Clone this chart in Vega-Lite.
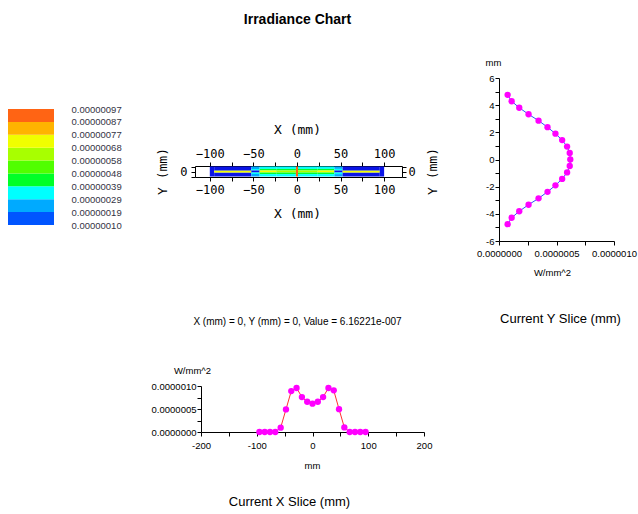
{
  "$schema": "https://vega.github.io/schema/vega-lite/v6.json",
  "width": 638,
  "height": 514,
  "autosize": {"type": "none"},
  "padding": 0,
  "background": "#ffffff",
  "resolve": {"scale": {"x": "independent", "y": "independent"}, "axis": {"x": "independent", "y": "independent"}},
  "layer": [
    {
      "data": {"values": [
        {"lo": 9.66e-8, "hi": 1.932e-7, "value": 1.449e-7},
        {"lo": 1.932e-7, "hi": 2.898e-7, "value": 2.415e-7},
        {"lo": 2.898e-7, "hi": 3.864e-7, "value": 3.381e-7},
        {"lo": 3.864e-7, "hi": 4.83e-7, "value": 4.347e-7},
        {"lo": 4.83e-7, "hi": 5.796e-7, "value": 5.313e-7},
        {"lo": 5.796e-7, "hi": 6.762e-7, "value": 6.279e-7},
        {"lo": 6.762e-7, "hi": 7.728e-7, "value": 7.245e-7},
        {"lo": 7.728e-7, "hi": 8.694e-7, "value": 8.211e-7},
        {"lo": 8.694e-7, "hi": 9.66e-7, "value": 9.177e-7}
      ]},
      "mark": {"type": "rect"},
      "encoding": {
        "x": {"datum": 0, "type": "quantitative", "scale": {"domain": [0, 1], "range": [8, 54], "nice": false, "zero": false}, "axis": null},
        "x2": {"datum": 1},
        "y": {"field": "lo", "type": "quantitative", "scale": {"domain": [9.66e-8, 9.66e-7], "range": [225, 109], "nice": false, "zero": false},
              "axis": {"orient": "right", "offset": -584, "values": [9.66e-8, 1.932e-7, 2.898e-7, 3.864e-7, 4.83e-7, 5.796e-7, 6.762e-7, 7.728e-7, 8.694e-7, 9.66e-7],
                       "format": ".8f", "domain": false, "ticks": false, "labelPadding": 17, "title": null, "labelFontSize": 9.5, "labelColor": "#333344"}},
        "y2": {"field": "hi"},
        "color": {"field": "value", "type": "quantitative",
                  "scale": {"type": "threshold", "domain": [9.66e-8, 1.932e-7, 2.898e-7, 3.864e-7, 4.83e-7, 5.796e-7, 6.762e-7, 7.728e-7, 8.694e-7],
                            "range": ["#0a14e6", "#0055ff", "#00aaff", "#00ffff", "#00ff28", "#50ff00", "#a8ff00", "#f0ff00", "#ffb400", "#ff6414"]},
                  "legend": null}
      }
    },
    {
      "data": {"values": [
        {"x0": -100, "x1": -95, "y0": -5, "y1": 5, "value": 5e-8},
        {"x0": -95, "x1": -52.4, "y0": -5, "y1": -1, "value": 5e-8},
        {"x0": -95, "x1": -52.4, "y0": -1, "y1": 1, "value": 7.2e-7},
        {"x0": -95, "x1": -52.4, "y0": 1, "y1": 5, "value": 5e-8},
        {"x0": -52.4, "x1": -42.9, "y0": 2.6, "y1": 5, "value": 2.5e-7},
        {"x0": -52.4, "x1": -42.9, "y0": 1, "y1": 2.6, "value": 3.5e-7},
        {"x0": -52.4, "x1": -42.9, "y0": -1, "y1": 1, "value": 5e-8},
        {"x0": -52.4, "x1": -42.9, "y0": -2.6, "y1": -1, "value": 3.5e-7},
        {"x0": -52.4, "x1": -42.9, "y0": -5, "y1": -2.6, "value": 2.5e-7},
        {"x0": -42.9, "x1": -23.8, "y0": 2.6, "y1": 5, "value": 3.5e-7},
        {"x0": -42.9, "x1": -23.8, "y0": 1, "y1": 2.6, "value": 4.5e-7},
        {"x0": -42.9, "x1": -23.8, "y0": -1, "y1": 1, "value": 7.2e-7},
        {"x0": -42.9, "x1": -23.8, "y0": -2.6, "y1": -1, "value": 4.5e-7},
        {"x0": -42.9, "x1": -23.8, "y0": -5, "y1": -2.6, "value": 3.5e-7},
        {"x0": -23.8, "x1": -1.2, "y0": 2.6, "y1": 5, "value": 3.3e-7},
        {"x0": -23.8, "x1": -1.2, "y0": 1, "y1": 2.6, "value": 4.2e-7},
        {"x0": -23.8, "x1": -1.2, "y0": -1, "y1": 1, "value": 6.2e-7},
        {"x0": -23.8, "x1": -1.2, "y0": -2.6, "y1": -1, "value": 4.2e-7},
        {"x0": -23.8, "x1": -1.2, "y0": -5, "y1": -2.6, "value": 3.3e-7},
        {"x0": -1.2, "x1": 1.2, "y0": -5, "y1": 5, "value": 9e-7},
        {"x0": 1.2, "x1": 23.8, "y0": 2.6, "y1": 5, "value": 3.3e-7},
        {"x0": 1.2, "x1": 23.8, "y0": 1, "y1": 2.6, "value": 4.2e-7},
        {"x0": 1.2, "x1": 23.8, "y0": -1, "y1": 1, "value": 6.2e-7},
        {"x0": 1.2, "x1": 23.8, "y0": -2.6, "y1": -1, "value": 4.2e-7},
        {"x0": 1.2, "x1": 23.8, "y0": -5, "y1": -2.6, "value": 3.3e-7},
        {"x0": 23.8, "x1": 42.9, "y0": 2.6, "y1": 5, "value": 3.5e-7},
        {"x0": 23.8, "x1": 42.9, "y0": 1, "y1": 2.6, "value": 4.5e-7},
        {"x0": 23.8, "x1": 42.9, "y0": -1, "y1": 1, "value": 7.2e-7},
        {"x0": 23.8, "x1": 42.9, "y0": -2.6, "y1": -1, "value": 4.5e-7},
        {"x0": 23.8, "x1": 42.9, "y0": -5, "y1": -2.6, "value": 3.5e-7},
        {"x0": 42.9, "x1": 52.4, "y0": 2.6, "y1": 5, "value": 2.5e-7},
        {"x0": 42.9, "x1": 52.4, "y0": 1, "y1": 2.6, "value": 3.5e-7},
        {"x0": 42.9, "x1": 52.4, "y0": -1, "y1": 1, "value": 5e-8},
        {"x0": 42.9, "x1": 52.4, "y0": -2.6, "y1": -1, "value": 3.5e-7},
        {"x0": 42.9, "x1": 52.4, "y0": -5, "y1": -2.6, "value": 2.5e-7},
        {"x0": 52.4, "x1": 95, "y0": -5, "y1": -1, "value": 5e-8},
        {"x0": 52.4, "x1": 95, "y0": -1, "y1": 1, "value": 7.2e-7},
        {"x0": 52.4, "x1": 95, "y0": 1, "y1": 5, "value": 5e-8},
        {"x0": 95, "x1": 100, "y0": -5, "y1": 5, "value": 5e-8}
      ]},
      "resolve": {"axis": {"x": "independent", "y": "independent"}},
      "layer": [
        {
          "mark": {"type": "rect"},
          "encoding": {
            "x": {"field": "x0", "type": "quantitative", "scale": {"domain": [-117, 120.5], "range": [195, 402], "nice": false, "zero": false},
                  "axis": {"orient": "bottom", "offset": -337, "values": [-100, -75, -50, -25, 0, 25, 50, 75, 100], "labelExpr": "datum.value % 50 === 0 ? datum.label : ''",
                           "title": "X (mm)", "titleX": 297, "titleY": 36, "titleBaseline": "middle", "titleAlign": "center",
                           "labelFont": "DejaVu Sans Mono", "titleFont": "DejaVu Sans Mono", "labelFontSize": 12, "titleFontSize": 13, "tickSize": 4, "labelPadding": 3}},
            "x2": {"field": "x1"},
            "y": {"field": "y0", "type": "quantitative", "scale": {"domain": [-5.5, 5.5], "range": [177, 166], "nice": false, "zero": false},
                  "axis": {"orient": "left", "offset": -195, "values": [-5, 0, 5], "labelExpr": "datum.value === 0 ? '0' : ''",
                           "title": "Y (mm)", "titleX": -33, "titleY": 171, "titleAngle": 270, "titleBaseline": "middle", "titleAlign": "center",
                           "labelFont": "DejaVu Sans Mono", "titleFont": "DejaVu Sans Mono", "labelFontSize": 12, "titleFontSize": 13, "tickSize": 4, "labelPadding": 4}},
            "y2": {"field": "y1"},
            "color": {"field": "value", "type": "quantitative",
                      "scale": {"type": "threshold", "domain": [9.66e-8, 1.932e-7, 2.898e-7, 3.864e-7, 4.83e-7, 5.796e-7, 6.762e-7, 7.728e-7, 8.694e-7],
                                "range": ["#0a14e6", "#0055ff", "#00aaff", "#00ffff", "#00ff28", "#50ff00", "#a8ff00", "#f0ff00", "#ffb400", "#ff6414"]},
                      "legend": null}
          }
        },
        {
          "mark": {"type": "rect", "opacity": 0},
          "encoding": {
            "x": {"field": "x0", "type": "quantitative",
                  "axis": {"orient": "top", "offset": -166, "values": [-100, -75, -50, -25, 0, 25, 50, 75, 100], "labelExpr": "datum.value % 50 === 0 ? datum.label : ''",
                           "title": "X (mm)", "titleX": 297, "titleY": -37, "titleBaseline": "middle", "titleAlign": "center",
                           "labelFont": "DejaVu Sans Mono", "titleFont": "DejaVu Sans Mono", "labelFontSize": 12, "titleFontSize": 13, "tickSize": 4, "labelPadding": 2}},
            "x2": {"field": "x1"},
            "y": {"field": "y0", "type": "quantitative",
                  "axis": {"orient": "right", "offset": -236, "values": [-5, 0, 5], "labelExpr": "datum.value === 0 ? '0' : ''",
                           "title": "Y (mm)", "titleX": 30, "titleY": 171, "titleAngle": 270, "titleBaseline": "middle", "titleAlign": "center",
                           "labelFont": "DejaVu Sans Mono", "titleFont": "DejaVu Sans Mono", "labelFontSize": 12, "titleFontSize": 13, "tickSize": 4, "labelPadding": 2}},
            "y2": {"field": "y1"}
          }
        },
        {
          "mark": {"type": "rect", "opacity": 0},
          "encoding": {
            "x": {"field": "x0", "type": "quantitative",
                  "axis": {"orient": "bottom", "offset": -337, "domain": false, "ticks": false, "labels": false,
                           "title": "X (mm) = 0, Y (mm) = 0, Value = 6.16221e-007", "titleX": 297, "titleY": 144.5, "titleBaseline": "middle", "titleAlign": "center",
                           "titleFontSize": 10, "titleFont": "Liberation Sans"}},
            "x2": {"field": "x1"},
            "y": {"field": "y0", "type": "quantitative", "axis": null},
            "y2": {"field": "y1"}
          }
        },
        {
          "mark": {"type": "rect", "opacity": 0},
          "encoding": {
            "x": {"field": "x0", "type": "quantitative",
                  "axis": {"orient": "top", "offset": -166, "domain": false, "ticks": false, "labels": false,
                           "title": "Irradiance Chart", "titleX": 297, "titleY": -143, "titleBaseline": "alphabetic", "titleAlign": "center",
                           "titleFontSize": 14, "titleFontWeight": "bold", "titleFont": "Liberation Sans"}},
            "x2": {"field": "x1"},
            "y": {"field": "y0", "type": "quantitative", "axis": null},
            "y2": {"field": "y1"}
          }
        }
      ]
    },
    {
      "data": {"values": [
        {"y": -4.76, "w": 7.5e-8}, {"y": -4.29, "w": 1.1e-7}, {"y": -3.81, "w": 1.76e-7}, {"y": -3.33, "w": 2.57e-7},
        {"y": -2.86, "w": 3.44e-7}, {"y": -2.38, "w": 4.22e-7}, {"y": -1.9, "w": 4.91e-7}, {"y": -1.43, "w": 5.49e-7},
        {"y": -0.95, "w": 5.92e-7}, {"y": -0.48, "w": 6.15e-7}, {"y": 0, "w": 6.2e-7}, {"y": 0.48, "w": 6.15e-7},
        {"y": 0.95, "w": 5.92e-7}, {"y": 1.43, "w": 5.49e-7}, {"y": 1.9, "w": 4.91e-7}, {"y": 2.38, "w": 4.22e-7},
        {"y": 2.86, "w": 3.44e-7}, {"y": 3.33, "w": 2.57e-7}, {"y": 3.81, "w": 1.76e-7}, {"y": 4.29, "w": 1.1e-7},
        {"y": 4.76, "w": 7.5e-8}
      ]},
      "resolve": {"axis": {"x": "independent", "y": "independent"}},
      "layer": [
        {
          "mark": {"type": "line", "color": "#3050ff", "strokeWidth": 1},
          "encoding": {
            "x": {"field": "w", "type": "quantitative", "scale": {"domain": [0, 1e-6], "range": [499, 614], "nice": false, "zero": false},
                  "axis": {"orient": "bottom", "offset": -273, "values": [0, 2.5e-7, 5e-7, 7.5e-7, 1e-6], "labelExpr": "round(datum.value * 4e6) % 2 === 0 ? format(datum.value, '.7f') : ''",
                           "title": "W/mm^2", "titleX": 552, "titleY": 31, "titleBaseline": "middle", "titleAlign": "center", "labelPadding": 3, "tickSize": 4}},
            "y": {"field": "y", "type": "quantitative", "scale": {"domain": [-6, 6], "range": [241, 78], "nice": false, "zero": false},
                  "axis": {"orient": "left", "offset": -499, "values": [-6, -5, -4, -3, -2, -1, 0, 1, 2, 3, 4, 5, 6], "labelExpr": "datum.value % 2 === 0 ? '' + datum.value : ''",
                           "title": "mm", "titleAngle": 0, "titleX": -6, "titleY": 62, "titleAlign": "center", "titleBaseline": "middle", "tickSize": 4, "labelPadding": 1}},
            "order": {"field": "y", "type": "quantitative"}
          }
        },
        {
          "mark": {"type": "point", "filled": true, "color": "#ff00ff", "size": 40, "opacity": 1},
          "encoding": {
            "x": {"field": "w", "type": "quantitative",
                  "axis": {"orient": "bottom", "offset": -273, "domain": false, "ticks": false, "labels": false,
                           "title": "Current Y Slice (mm)", "titleX": 560, "titleY": 77, "titleBaseline": "middle", "titleAlign": "center", "titleFontSize": 13}},
            "y": {"field": "y", "type": "quantitative", "axis": null}
          }
        }
      ]
    },
    {
      "data": {"values": [
        {"x": -95.2, "w": 0}, {"x": -85.7, "w": 0}, {"x": -76.2, "w": 0}, {"x": -66.7, "w": 0},
        {"x": -57.1, "w": 9.5e-8}, {"x": -47.6, "w": 4.9e-7}, {"x": -38.1, "w": 8.9e-7}, {"x": -28.6, "w": 9.56e-7},
        {"x": -19.0, "w": 7.6e-7}, {"x": -9.5, "w": 6.57e-7}, {"x": 0, "w": 6.16e-7}, {"x": 9.5, "w": 6.57e-7},
        {"x": 19.0, "w": 7.6e-7}, {"x": 28.6, "w": 9.56e-7}, {"x": 38.1, "w": 9.05e-7}, {"x": 47.6, "w": 4.96e-7},
        {"x": 57.1, "w": 1.0e-7}, {"x": 66.7, "w": 0}, {"x": 76.2, "w": 0}, {"x": 85.7, "w": 0}, {"x": 95.2, "w": 0}
      ]},
      "resolve": {"axis": {"x": "independent", "y": "independent"}},
      "layer": [
        {
          "mark": {"type": "line", "color": "#ff3030", "strokeWidth": 1},
          "encoding": {
            "x": {"field": "x", "type": "quantitative", "scale": {"domain": [-200, 200], "range": [201, 424], "nice": false, "zero": false},
                  "axis": {"orient": "bottom", "offset": -82, "values": [-200, -150, -100, -50, 0, 50, 100, 150, 200], "labelExpr": "datum.value % 100 === 0 ? '' + datum.value : ''",
                           "title": "mm", "titleX": 312, "titleY": 33, "titleBaseline": "middle", "titleAlign": "center", "labelPadding": 4, "tickSize": 4}},
            "y": {"field": "w", "type": "quantitative", "scale": {"domain": [0, 1e-6], "range": [432, 386], "nice": false, "zero": false},
                  "axis": {"orient": "left", "offset": -201, "values": [0, 2.5e-7, 5e-7, 7.5e-7, 1e-6], "labelExpr": "round(datum.value * 4e6) % 2 === 0 ? format(datum.value, '.7f') : ''",
                           "title": "W/mm^2", "titleAngle": 0, "titleX": -9, "titleY": 370, "titleAlign": "center", "titleBaseline": "middle", "tickSize": 4, "labelPadding": 1}}
          }
        },
        {
          "mark": {"type": "point", "filled": true, "color": "#ff00ff", "size": 40, "opacity": 1},
          "encoding": {
            "x": {"field": "x", "type": "quantitative",
                  "axis": {"orient": "bottom", "offset": -82, "domain": false, "ticks": false, "labels": false,
                           "title": "Current X Slice (mm)", "titleX": 289, "titleY": 69, "titleBaseline": "middle", "titleAlign": "center", "titleFontSize": 13}},
            "y": {"field": "w", "type": "quantitative", "axis": null}
          }
        }
      ]
    }
  ],
  "config": {
    "view": {"stroke": null},
    "axis": {"grid": false, "domainColor": "#000000", "tickColor": "#000000", "labelColor": "#000000", "titleColor": "#000000",
             "labelFont": "Liberation Sans", "titleFont": "Liberation Sans", "labelFontSize": 9.5, "titleFontSize": 9.5, "titleFontWeight": "normal",
             "labelFlush": false, "labelOverlap": false, "labelBound": false, "titleLimit": 1000}
  }
}
